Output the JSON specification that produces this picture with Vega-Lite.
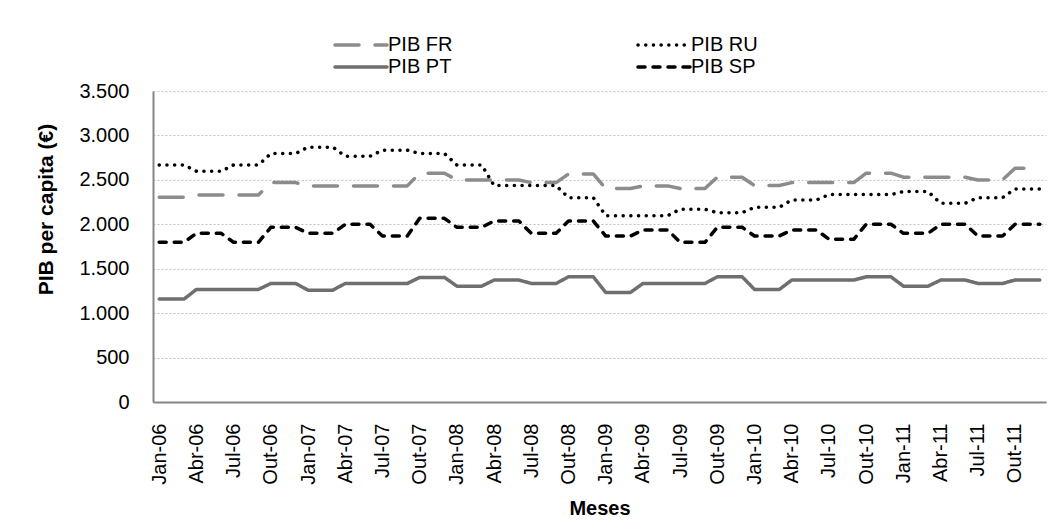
{
  "$schema": "https://vega.github.io/schema/vega-lite/v6.json",
  "width": 893,
  "height": 311,
  "autosize": {"type": "none"},
  "padding": {"left": 153, "top": 91, "right": 17, "bottom": 118},
  "background": "white",
  "config": {
    "font": "Liberation Sans",
    "view": {"stroke": null},
    "axis": {"labelFont": "Liberation Sans", "titleFont": "Liberation Sans", "labelColor": "#000000", "titleColor": "#000000"}
  },
  "data": {
    "values": [
      {"m": "Jan-06", "PIB FR": 2304, "PIB RU": 2668, "PIB PT": 1158, "PIB SP": 1797},
      {"m": "Fev-06", "PIB FR": 2304, "PIB RU": 2668, "PIB PT": 1158, "PIB SP": 1797},
      {"m": "Mar-06", "PIB FR": 2304, "PIB RU": 2668, "PIB PT": 1158, "PIB SP": 1797},
      {"m": "Abr-06", "PIB FR": 2330, "PIB RU": 2597, "PIB PT": 1267, "PIB SP": 1898},
      {"m": "Mai-06", "PIB FR": 2330, "PIB RU": 2597, "PIB PT": 1267, "PIB SP": 1898},
      {"m": "Jun-06", "PIB FR": 2330, "PIB RU": 2597, "PIB PT": 1267, "PIB SP": 1898},
      {"m": "Jul-06", "PIB FR": 2330, "PIB RU": 2668, "PIB PT": 1267, "PIB SP": 1797},
      {"m": "Ago-06", "PIB FR": 2330, "PIB RU": 2668, "PIB PT": 1267, "PIB SP": 1797},
      {"m": "Set-06", "PIB FR": 2330, "PIB RU": 2668, "PIB PT": 1267, "PIB SP": 1797},
      {"m": "Out-06", "PIB FR": 2469, "PIB RU": 2796, "PIB PT": 1334, "PIB SP": 1966},
      {"m": "Nov-06", "PIB FR": 2469, "PIB RU": 2796, "PIB PT": 1334, "PIB SP": 1966},
      {"m": "Dez-06", "PIB FR": 2469, "PIB RU": 2796, "PIB PT": 1334, "PIB SP": 1966},
      {"m": "Jan-07", "PIB FR": 2432, "PIB RU": 2868, "PIB PT": 1259, "PIB SP": 1898},
      {"m": "Fev-07", "PIB FR": 2432, "PIB RU": 2868, "PIB PT": 1259, "PIB SP": 1898},
      {"m": "Mar-07", "PIB FR": 2432, "PIB RU": 2868, "PIB PT": 1259, "PIB SP": 1898},
      {"m": "Abr-07", "PIB FR": 2432, "PIB RU": 2766, "PIB PT": 1334, "PIB SP": 2000},
      {"m": "Mai-07", "PIB FR": 2432, "PIB RU": 2766, "PIB PT": 1334, "PIB SP": 2000},
      {"m": "Jun-07", "PIB FR": 2432, "PIB RU": 2766, "PIB PT": 1334, "PIB SP": 2000},
      {"m": "Jul-07", "PIB FR": 2432, "PIB RU": 2834, "PIB PT": 1334, "PIB SP": 1868},
      {"m": "Ago-07", "PIB FR": 2432, "PIB RU": 2834, "PIB PT": 1334, "PIB SP": 1868},
      {"m": "Set-07", "PIB FR": 2432, "PIB RU": 2834, "PIB PT": 1334, "PIB SP": 1868},
      {"m": "Out-07", "PIB FR": 2575, "PIB RU": 2796, "PIB PT": 1402, "PIB SP": 2067},
      {"m": "Nov-07", "PIB FR": 2575, "PIB RU": 2796, "PIB PT": 1402, "PIB SP": 2067},
      {"m": "Dez-07", "PIB FR": 2575, "PIB RU": 2796, "PIB PT": 1402, "PIB SP": 2067},
      {"m": "Jan-08", "PIB FR": 2499, "PIB RU": 2668, "PIB PT": 1304, "PIB SP": 1966},
      {"m": "Fev-08", "PIB FR": 2499, "PIB RU": 2668, "PIB PT": 1304, "PIB SP": 1966},
      {"m": "Mar-08", "PIB FR": 2499, "PIB RU": 2668, "PIB PT": 1304, "PIB SP": 1966},
      {"m": "Abr-08", "PIB FR": 2499, "PIB RU": 2436, "PIB PT": 1372, "PIB SP": 2037},
      {"m": "Mai-08", "PIB FR": 2499, "PIB RU": 2436, "PIB PT": 1372, "PIB SP": 2037},
      {"m": "Jun-08", "PIB FR": 2499, "PIB RU": 2436, "PIB PT": 1372, "PIB SP": 2037},
      {"m": "Jul-08", "PIB FR": 2469, "PIB RU": 2436, "PIB PT": 1334, "PIB SP": 1898},
      {"m": "Ago-08", "PIB FR": 2469, "PIB RU": 2436, "PIB PT": 1334, "PIB SP": 1898},
      {"m": "Set-08", "PIB FR": 2469, "PIB RU": 2436, "PIB PT": 1334, "PIB SP": 1898},
      {"m": "Out-08", "PIB FR": 2567, "PIB RU": 2300, "PIB PT": 1409, "PIB SP": 2037},
      {"m": "Nov-08", "PIB FR": 2567, "PIB RU": 2300, "PIB PT": 1409, "PIB SP": 2037},
      {"m": "Dez-08", "PIB FR": 2567, "PIB RU": 2300, "PIB PT": 1409, "PIB SP": 2037},
      {"m": "Jan-09", "PIB FR": 2402, "PIB RU": 2097, "PIB PT": 1233, "PIB SP": 1868},
      {"m": "Fev-09", "PIB FR": 2402, "PIB RU": 2097, "PIB PT": 1233, "PIB SP": 1868},
      {"m": "Mar-09", "PIB FR": 2402, "PIB RU": 2097, "PIB PT": 1233, "PIB SP": 1868},
      {"m": "Abr-09", "PIB FR": 2432, "PIB RU": 2097, "PIB PT": 1334, "PIB SP": 1936},
      {"m": "Mai-09", "PIB FR": 2432, "PIB RU": 2097, "PIB PT": 1334, "PIB SP": 1936},
      {"m": "Jun-09", "PIB FR": 2432, "PIB RU": 2097, "PIB PT": 1334, "PIB SP": 1936},
      {"m": "Jul-09", "PIB FR": 2402, "PIB RU": 2169, "PIB PT": 1334, "PIB SP": 1797},
      {"m": "Ago-09", "PIB FR": 2402, "PIB RU": 2169, "PIB PT": 1334, "PIB SP": 1797},
      {"m": "Set-09", "PIB FR": 2402, "PIB RU": 2169, "PIB PT": 1334, "PIB SP": 1797},
      {"m": "Out-09", "PIB FR": 2530, "PIB RU": 2131, "PIB PT": 1409, "PIB SP": 1966},
      {"m": "Nov-09", "PIB FR": 2530, "PIB RU": 2131, "PIB PT": 1409, "PIB SP": 1966},
      {"m": "Dez-09", "PIB FR": 2530, "PIB RU": 2131, "PIB PT": 1409, "PIB SP": 1966},
      {"m": "Jan-10", "PIB FR": 2436, "PIB RU": 2191, "PIB PT": 1267, "PIB SP": 1868},
      {"m": "Fev-10", "PIB FR": 2436, "PIB RU": 2191, "PIB PT": 1267, "PIB SP": 1868},
      {"m": "Mar-10", "PIB FR": 2436, "PIB RU": 2191, "PIB PT": 1267, "PIB SP": 1868},
      {"m": "Abr-10", "PIB FR": 2469, "PIB RU": 2274, "PIB PT": 1372, "PIB SP": 1936},
      {"m": "Mai-10", "PIB FR": 2469, "PIB RU": 2274, "PIB PT": 1372, "PIB SP": 1936},
      {"m": "Jun-10", "PIB FR": 2469, "PIB RU": 2274, "PIB PT": 1372, "PIB SP": 1936},
      {"m": "Jul-10", "PIB FR": 2469, "PIB RU": 2334, "PIB PT": 1372, "PIB SP": 1831},
      {"m": "Ago-10", "PIB FR": 2469, "PIB RU": 2334, "PIB PT": 1372, "PIB SP": 1831},
      {"m": "Set-10", "PIB FR": 2469, "PIB RU": 2334, "PIB PT": 1372, "PIB SP": 1831},
      {"m": "Out-10", "PIB FR": 2575, "PIB RU": 2334, "PIB PT": 1409, "PIB SP": 2000},
      {"m": "Nov-10", "PIB FR": 2575, "PIB RU": 2334, "PIB PT": 1409, "PIB SP": 2000},
      {"m": "Dez-10", "PIB FR": 2575, "PIB RU": 2334, "PIB PT": 1409, "PIB SP": 2000},
      {"m": "Jan-11", "PIB FR": 2530, "PIB RU": 2368, "PIB PT": 1304, "PIB SP": 1898},
      {"m": "Fev-11", "PIB FR": 2530, "PIB RU": 2368, "PIB PT": 1304, "PIB SP": 1898},
      {"m": "Mar-11", "PIB FR": 2530, "PIB RU": 2368, "PIB PT": 1304, "PIB SP": 1898},
      {"m": "Abr-11", "PIB FR": 2530, "PIB RU": 2237, "PIB PT": 1372, "PIB SP": 2000},
      {"m": "Mai-11", "PIB FR": 2530, "PIB RU": 2237, "PIB PT": 1372, "PIB SP": 2000},
      {"m": "Jun-11", "PIB FR": 2530, "PIB RU": 2237, "PIB PT": 1372, "PIB SP": 2000},
      {"m": "Jul-11", "PIB FR": 2499, "PIB RU": 2300, "PIB PT": 1334, "PIB SP": 1868},
      {"m": "Ago-11", "PIB FR": 2499, "PIB RU": 2300, "PIB PT": 1334, "PIB SP": 1868},
      {"m": "Set-11", "PIB FR": 2499, "PIB RU": 2300, "PIB PT": 1334, "PIB SP": 1868},
      {"m": "Out-11", "PIB FR": 2631, "PIB RU": 2398, "PIB PT": 1372, "PIB SP": 2000},
      {"m": "Nov-11", "PIB FR": 2631, "PIB RU": 2398, "PIB PT": 1372, "PIB SP": 2000},
      {"m": "Dez-11", "PIB FR": 2631, "PIB RU": 2398, "PIB PT": 1372, "PIB SP": 2000}
    ]
  },
  "transform": [
    {"fold": ["PIB FR", "PIB RU", "PIB PT", "PIB SP"], "as": ["s", "v"]}
  ],
  "mark": {"type": "line", "strokeWidth": 3.5, "strokeCap": "round", "strokeJoin": "round"},
  "encoding": {
    "x": {
      "field": "m",
      "type": "nominal",
      "sort": null,
      "scale": {"padding": 0.5},
      "axis": {
        "title": "Meses",
        "titleFontSize": 20,
        "titleFontWeight": "bold",
        "titlePadding": 14,
        "labelFontSize": 20,
        "labelAngle": -90,
        "labelPadding": 21,
        "ticks": false,
        "grid": false,
        "domainColor": "#868686",
        "domainWidth": 2,
        "labelOverlap": false,
        "values": ["Jan-06","Abr-06","Jul-06","Out-06","Jan-07","Abr-07","Jul-07","Out-07","Jan-08","Abr-08","Jul-08","Out-08","Jan-09","Abr-09","Jul-09","Out-09","Jan-10","Abr-10","Jul-10","Out-10","Jan-11","Abr-11","Jul-11","Out-11"]
      }
    },
    "y": {
      "field": "v",
      "type": "quantitative",
      "scale": {"domain": [0, 3500], "nice": false},
      "axis": {
        "title": "PIB per capita (€)",
        "titleFontSize": 21,
        "titleFontWeight": "bold",
        "titlePadding": 22,
        "titleY": 118,
        "labelFontSize": 20,
        "labelPadding": 24,
        "ticks": false,
        "values": [0, 500, 1000, 1500, 2000, 2500, 3000, 3500],
        "labelExpr": "replace(format(datum.value, ','), ',', '.')",
        "grid": true,
        "gridColor": "#c0c0c0",
        "gridDash": [2, 2],
        "gridWidth": 1,
        "domainColor": "#868686",
        "domainWidth": 2
      }
    },
    "color": {
      "field": "s",
      "type": "nominal",
      "scale": {"domain": ["PIB FR", "PIB RU", "PIB PT", "PIB SP"], "range": ["#8c8c8c", "#000000", "#6f6f6f", "#000000"]},
      "legend": {
        "title": null,
        "orient": "none",
        "legendX": 196,
        "legendY": -58,
        "direction": "horizontal",
        "columns": 2,
        "columnPadding": 178,
        "rowPadding": -7,
        "padding": 0,
        "symbolType": "M-2.6,0H2.6",
        "symbolSize": 400,
        "symbolStrokeWidth": 3.5,
        "symbolFillColor": "transparent",
        "labelFontSize": 20,
        "labelFont": "Liberation Sans",
        "labelColor": "#000000",
        "labelOffset": 15,
        "labelLimit": 200,
        "encode": {"symbols": {"update": {"strokeCap": {"value": "round"}, "fill": {"value": "transparent"}}}}
      }
    },
    "strokeDash": {
      "field": "s",
      "type": "nominal",
      "scale": {"domain": ["PIB FR", "PIB RU", "PIB PT", "PIB SP"], "range": [[24, 16], [0.1, 7.6], [1, 0], [7, 8]]},
      "legend": null
    }
  }
}
